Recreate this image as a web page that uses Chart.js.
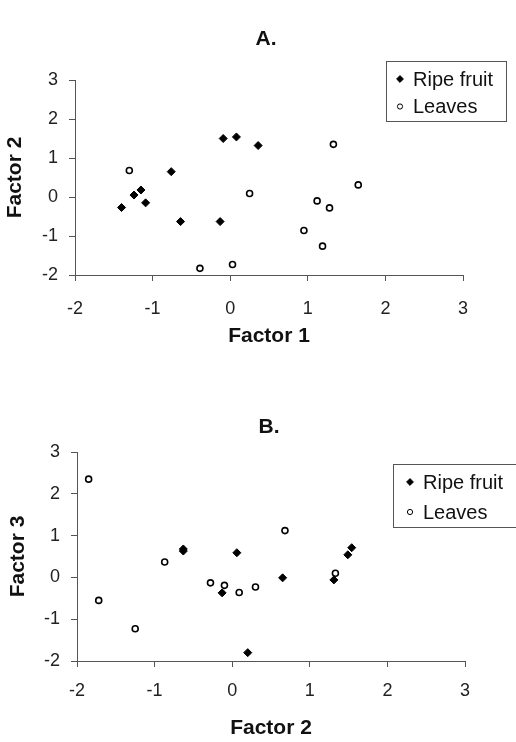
<!DOCTYPE html>
<html>
<head>
<meta charset="utf-8">
<script src="https://cdn.jsdelivr.net/npm/chart.js@4.4.1/dist/chart.umd.min.js"></script>
<style>
  html, body { margin: 0; padding: 0; background: #fff; }
  #wrap { position: relative; width: 516px; height: 742px; overflow: hidden; }
  canvas { position: absolute; left: 0; }
  #chartA { top: 0; }
  #chartB { top: 370px; }
</style>
</head>
<body>
<div id="wrap">
  <canvas id="chartA" width="516" height="370"></canvas>
  <canvas id="chartB" width="516" height="372"></canvas>
</div>
<script>
// Panel A: Factor 1 (x) vs Factor 2 (y)
const fruitA_f1 = [-1.40, -1.24, -1.15, -1.09, -0.76, -0.64, -0.13, -0.09, 0.08, 0.36];
const fruitA_f2 = [-0.27, 0.05, 0.18, -0.15, 0.65, -0.63, -0.63, 1.50, 1.54, 1.32];
const leavesA_f1 = [-1.30, -0.39, 0.03, 0.25, 0.95, 1.12, 1.28, 1.19, 1.33, 1.65];
const leavesA_f2 = [0.68, -1.83, -1.73, 0.09, -0.86, -0.10, -0.28, -1.26, 1.35, 0.31];

// Panel B: Factor 2 (x) vs Factor 3 (y)
const fruitB_f2 = [-0.63, -0.63, -0.13, 0.06, 0.65, 1.31, 1.49, 1.54, 0.20];
const fruitB_f3 = [0.68, 0.63, -0.37, 0.59, -0.01, -0.06, 0.54, 0.71, -1.80];
const leavesB_f2 = [-1.85, -1.72, -1.25, -0.87, -0.28, -0.10, 0.09, 0.30, 0.68, 1.33];
const leavesB_f3 = [2.35, -0.55, -1.23, 0.37, -0.13, -0.19, -0.36, -0.23, 1.12, 0.10];

const seriesNames = ['Ripe fruit', 'Leaves'];
const axisMin = -2;
const axisMax = 3;

const FONT = "'Liberation Sans', Arial, sans-serif";
const AXIS_COLOR = '#555';

function toPoints(xs, ys) {
    return xs.map((x, i) => ({ x: x, y: ys[i] }));
}

// Panel letter, centred over the plot area rather than the whole canvas
const panelTitle = {
    id: 'panelTitle',
    afterDraw(chart, args, opts) {
        const ctx = chart.ctx;
        const area = chart.chartArea;
        ctx.save();
        ctx.font = 'bold 21px ' + FONT;
        ctx.fillStyle = '#111';
        ctx.textAlign = 'center';
        ctx.textBaseline = 'middle';
        ctx.fillText(opts.text, (area.left + area.right) / 2 + opts.dx, area.top - opts.gap);
        ctx.restore();
    }
};

// Boxed legend drawn at a fixed spot, like the spreadsheet original
const boxLegend = {
    id: 'boxLegend',
    afterDraw(chart, args, opts) {
        const ctx = chart.ctx;
        ctx.save();
        ctx.strokeStyle = AXIS_COLOR;
        ctx.lineWidth = 1;
        ctx.strokeRect(opts.x + 0.5, opts.y + 0.5, opts.w, opts.h);
        ctx.font = opts.fontSize + 'px ' + FONT;
        ctx.textBaseline = 'middle';
        chart.data.datasets.forEach((ds, i) => {
            const cy = opts.y + opts.firstRow + i * opts.rowGap;
            ctx.save();
            ctx.fillStyle = ds.backgroundColor;
            ctx.strokeStyle = ds.borderColor;
            ctx.lineWidth = 1;
            Chart.helpers.drawPoint(ctx, {
                pointStyle: ds.pointStyle,
                radius: ds.pointStyle === 'circle' ? 2.6 : 3.4,
                borderWidth: 1
            }, opts.x + opts.markerX, cy);
            ctx.restore();
            ctx.fillStyle = '#111';
            ctx.fillText(ds.label, opts.x + opts.textX, cy + 1);
        });
        ctx.restore();
    }
};

function makeChart(id, cfg) {
    const fruitDs = {
        label: seriesNames[0],
        data: toPoints(cfg.fruitX, cfg.fruitY),
        pointStyle: 'rectRot',
        pointRadius: 4,
        pointHoverRadius: 4,
        backgroundColor: '#000',
        borderColor: '#000',
        borderWidth: 1
    };
    const leavesDs = {
        label: seriesNames[1],
        data: toPoints(cfg.leavesX, cfg.leavesY),
        pointStyle: 'circle',
        pointRadius: 3,
        pointHoverRadius: 3,
        backgroundColor: '#fff',
        borderColor: '#000',
        borderWidth: 1.6
    };

    const tickFont = { family: FONT, size: 18 };
    const titleFont = { family: FONT, size: 21, weight: 'bold' };

    return new Chart(document.getElementById(id), {
        type: 'scatter',
        data: { datasets: [fruitDs, leavesDs] },
        options: {
            responsive: false,
            animation: false,
            events: [],
            layout: { padding: { top: cfg.padTop, left: 0, right: cfg.padRight, bottom: 0 } },
            scales: {
                x: {
                    type: 'linear',
                    min: axisMin,
                    max: axisMax,
                    ticks: { stepSize: 1, color: '#222', font: tickFont, padding: cfg.xTickPad },
                    grid: { drawOnChartArea: false, drawTicks: true, tickLength: 6, color: AXIS_COLOR },
                    border: { display: true, color: AXIS_COLOR, width: 1 },
                    title: { display: true, text: cfg.xTitle, color: '#111', font: titleFont,
                             padding: { top: 0, bottom: cfg.xTitlePad } },
                    afterFit(scale) { scale.height = cfg.xHeight; }
                },
                y: {
                    type: 'linear',
                    min: axisMin,
                    max: axisMax,
                    ticks: { stepSize: 1, color: '#222', font: tickFont, padding: 11 },
                    grid: { drawOnChartArea: false, drawTicks: true, tickLength: 6, color: AXIS_COLOR },
                    border: { display: true, color: AXIS_COLOR, width: 1 },
                    title: { display: true, text: cfg.yTitle, color: '#111', font: titleFont,
                             padding: { top: cfg.yTitlePad, bottom: 0 } },
                    afterFit(scale) { scale.width = cfg.yWidth; }
                }
            },
            plugins: {
                legend: { display: false },
                tooltip: { enabled: false },
                title: { display: false },
                panelTitle: cfg.title,
                boxLegend: cfg.legend
            }
        },
        plugins: [panelTitle, boxLegend]
    });
}

makeChart('chartA', {
    title: { text: 'A.', dx: -3, gap: 41 },
    xTitle: 'Factor 1',
    yTitle: 'Factor 2',
    fruitX: fruitA_f1, fruitY: fruitA_f2,
    leavesX: leavesA_f1, leavesY: leavesA_f2,
    padTop: 80,
    padRight: 53,
    yWidth: 75,
    xHeight: 95,
    xTickPad: 17,
    xTitlePad: 21,
    yTitlePad: 3,
    legend: { x: 386, y: 61, w: 120, h: 60, firstRow: 18, rowGap: 27.5, markerX: 14, textX: 27, fontSize: 20 }
});

makeChart('chartB', {
    title: { text: 'B.', dx: -2, gap: 25 },
    xTitle: 'Factor 2',
    yTitle: 'Factor 3',
    fruitX: fruitB_f2, fruitY: fruitB_f3,
    leavesX: leavesB_f2, leavesY: leavesB_f3,
    padTop: 82,
    padRight: 51,
    yWidth: 77,
    xHeight: 81,
    xTickPad: 13,
    xTitlePad: 1,
    yTitlePad: 6,
    legend: { x: 393, y: 94, w: 140, h: 63, firstRow: 18, rowGap: 30, markerX: 17, textX: 30, fontSize: 20 }
});
</script>
</body>
</html>
